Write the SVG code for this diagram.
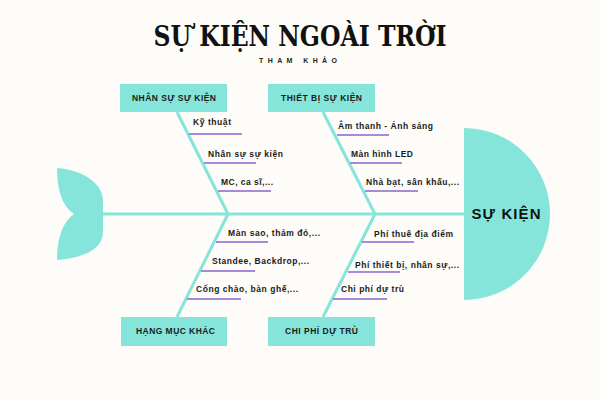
<svg xmlns="http://www.w3.org/2000/svg" width="600" height="400" viewBox="0 0 600 400">
<style>
.bg{fill:#FDFCF8}
.teal{fill:#86E5DA}
.bone{stroke:#86E5DA;stroke-width:3;fill:none;stroke-linecap:butt}
.ul{stroke:#8C63D2;stroke-width:1.3}
.title{font-family:"DejaVu Serif Condensed","DejaVu Serif",serif;font-stretch:condensed;font-weight:bold;font-size:27px;fill:#111}
.sub{font-family:"Liberation Sans",Arial,sans-serif;font-weight:bold;font-size:7px;fill:#222;letter-spacing:4px}
.box{font-family:"Liberation Sans",Arial,sans-serif;font-weight:bold;font-size:8.5px;fill:#1a1a1a;text-anchor:middle}
.lbl{font-family:"Liberation Sans",Arial,sans-serif;font-weight:bold;font-size:8.5px;fill:#1a1a1a}
.head{font-family:"Liberation Sans",Arial,sans-serif;font-weight:bold;font-size:15px;fill:#111;text-anchor:middle}
</style>
<rect class="bg" x="0" y="0" width="600" height="400"/>
<g id="title">
<text class="title" x="300" y="46" text-anchor="middle" textLength="293" lengthAdjust="spacingAndGlyphs">SỰ KIỆN NGOÀI TRỜI</text>
<text class="sub" x="259" y="63" textLength="82">THAM KHẢO</text>
</g>
<g id="connectors">
<line class="bone" x1="103" y1="214" x2="465" y2="214"/>
<polyline class="bone" points="177,112 228,214 177,317"/>
<polyline class="bone" points="323,112 375,214 323,317"/>
</g>
<g id="tail">
<path class="teal" d="M57,168 C85,170 103,185 103,200 L103,232 C103,250 82,258 57,260 C57,240 62,222 74,214 C62,206 57,190 57,168 Z"/>
</g>
<g id="head">
<path class="teal" d="M464,128 A86,86 0 0 1 464,300 Z"/>
<text class="head" x="506" y="219" textLength="69">SỰ KIỆN</text>
</g>
<g id="nhan-su">
<rect class="teal" x="120" y="84" width="107" height="28"/>
<text class="box" x="174" y="101" textLength="84">NHÂN SỰ SỰ KIỆN</text>
</g>
<g id="thiet-bi">
<rect class="teal" x="268" y="84" width="107" height="28"/>
<text class="box" x="321.5" y="101" textLength="81">THIẾT BỊ SỰ KIỆN</text>
</g>
<g id="hang-muc">
<rect class="teal" x="121" y="317" width="106" height="29"/>
<text class="box" x="175.5" y="334" textLength="79">HẠNG MỤC KHÁC</text>
</g>
<g id="chi-phi">
<rect class="teal" x="268" y="317" width="107" height="29"/>
<text class="box" x="321.5" y="334" textLength="73">CHI PHÍ DỰ TRÙ</text>
</g>
<g id="labels-nhan-su">
<text class="lbl" x="193" y="125" textLength="38">Kỹ thuật</text>
<line class="ul" x1="189" y1="134" x2="242" y2="134"/>
<text class="lbl" x="208" y="157" textLength="75">Nhân sự sự kiện</text>
<line class="ul" x1="204" y1="163" x2="256" y2="163"/>
<text class="lbl" x="221" y="185" textLength="52">MC, ca sĩ,...</text>
<line class="ul" x1="218" y1="191" x2="271" y2="191"/>
</g>
<g id="labels-thiet-bi">
<text class="lbl" x="338" y="129" textLength="95">Âm thanh - Ánh sáng</text>
<line class="ul" x1="337" y1="135" x2="389" y2="135"/>
<text class="lbl" x="351" y="157" textLength="62">Màn hình LED</text>
<line class="ul" x1="350" y1="163" x2="402" y2="163"/>
<text class="lbl" x="366" y="185" textLength="93">Nhà bạt, sân khấu,...</text>
<line class="ul" x1="365" y1="191" x2="418" y2="191"/>
</g>
<g id="labels-hang-muc">
<text class="lbl" x="228" y="236" textLength="92">Màn sao, thảm đỏ,...</text>
<line class="ul" x1="216" y1="242" x2="268" y2="242"/>
<text class="lbl" x="212" y="264" textLength="97">Standee, Backdrop,...</text>
<line class="ul" x1="201" y1="271" x2="255" y2="271"/>
<text class="lbl" x="196" y="292" textLength="102">Cổng chào, bàn ghế,...</text>
<line class="ul" x1="187" y1="299" x2="241" y2="299"/>
</g>
<g id="labels-chi-phi">
<text class="lbl" x="374" y="237" textLength="79">Phí thuê địa điểm</text>
<line class="ul" x1="362" y1="242" x2="414" y2="242"/>
<text class="lbl" x="355" y="268" textLength="104">Phí thiết bị, nhân sự,...</text>
<line class="ul" x1="348" y1="272" x2="400" y2="272"/>
<text class="lbl" x="341" y="292" textLength="63">Chi phí dự trù</text>
<line class="ul" x1="333" y1="299" x2="387" y2="299"/>
</g>
</svg>
